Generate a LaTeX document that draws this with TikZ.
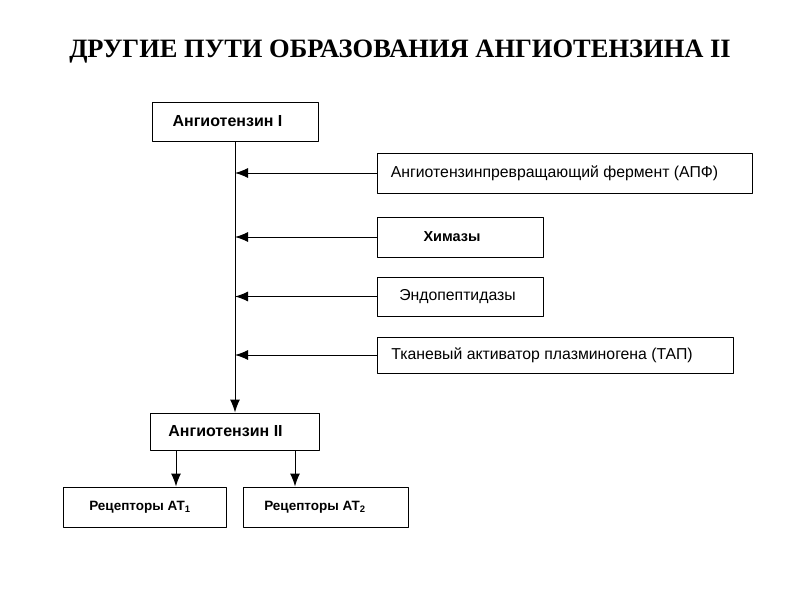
\documentclass[tikz,border=0pt]{standalone}
\usepackage{fontspec}
\setmainfont{Liberation Serif}
\newfontfamily\boxfont{Liberation Sans}
\usetikzlibrary{arrows.meta}
\tikzset{
  blk/.style={draw,line width=1pt,inner sep=0pt,font=\boxfont\fontsize{15.8}{18}\selectfont},
  arr/.style={-{Latex[length=13pt,width=10pt]},line width=1pt}
}
\begin{document}
\begin{tikzpicture}[x=1pt,y=-1pt,line join=round]
	\useasboundingbox[fill=white] (0,0) rectangle (800,600);
	\node[font=\bfseries\fontsize{26.5}{30}\selectfont] (title) at (400,52) {ДРУГИЕ ПУТИ ОБРАЗОВАНИЯ АНГИОТЕНЗИНА II};
	% main chain
	\node[blk,minimum width=166pt,minimum height=39pt,font=\boxfont\bfseries\fontsize{16}{18}\selectfont] (ang1) at (235,121.5) {Ангиотензин I\hspace*{15pt}};
	\node[blk,minimum width=169pt,minimum height=37pt,font=\boxfont\bfseries\fontsize{16}{18}\selectfont] (ang2) at (235,431.5) {Ангиотензин II\hspace*{19pt}};
	% enzymes
	\node[blk,minimum width=375pt,minimum height=40pt] (ace) at (564.5,173) {Ангиотензинпревращающий фермент (АПФ)\hspace*{20pt}};
	\node[blk,minimum width=166pt,minimum height=40pt,font=\boxfont\bfseries\fontsize{14.5}{17}\selectfont] (chym) at (460,237) {Химазы\hspace*{16pt}};
	\node[blk,minimum width=166pt,minimum height=39pt] (endo) at (460,296.5) {Эндопептидазы\hspace*{5pt}};
	\node[blk,minimum width=356pt,minimum height=36pt] (tap) at (555,355) {Тканевый активатор плазминогена (ТАП)\hspace*{26pt}};
	% receptors
	\node[blk,minimum width=163pt,minimum height=40pt,font=\boxfont\bfseries\fontsize{13.5}{16}\selectfont] (rec1) at (144.5,507) {Рецепторы АТ\textsubscript{1}\hspace*{9pt}};
	\node[blk,minimum width=165pt,minimum height=40pt,font=\boxfont\bfseries\fontsize{13.5}{16}\selectfont] (rec2) at (325.5,507) {Рецепторы АТ\textsubscript{2}\hspace*{21pt}};
	\draw[arr] (ang1) -- (ang2);
	\foreach \e in {ace,chym,endo,tap}
		\draw[arr] (\e.west) -- (\e.west -| ang1.south);
	\coordinate (d1) at (176,0);
	\coordinate (d2) at (295,0);
	\draw[arr] (d1 |- ang2.south) -- (d1 |- rec1.north);
	\draw[arr] (d2 |- ang2.south) -- (d2 |- rec2.north);
\end{tikzpicture}
\end{document}
